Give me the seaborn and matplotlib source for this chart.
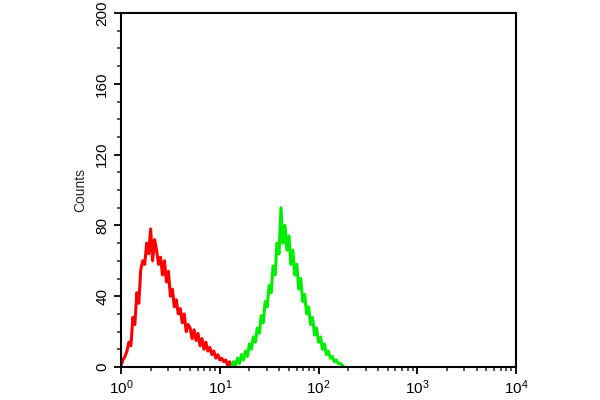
import numpy as np
import pandas as pd
import matplotlib
matplotlib.use("Agg")
import matplotlib.pyplot as plt
import seaborn as sns
from matplotlib.ticker import LogLocator, LogFormatterMathtext, MultipleLocator

# histogram channels, in decades (log10 of intensity), step 0.02
red_start = 0.00
green_start = 1.12
step = 0.02

red_counts = [1, 4, 6, 9, 14, 12, 28, 24, 42, 36,
              55, 60, 58, 70, 64, 78, 60, 72, 66, 58,
              62, 52, 60, 48, 54, 40, 44, 34, 38, 30,
              33, 25, 30, 20, 24, 22, 16, 21, 15, 19,
              12, 16, 10, 14, 9, 11, 7, 9, 5, 7,
              4, 5, 3, 4, 1, 3, 0, 2, 0]

green_counts = [0, 3, 1, 5, 2, 7, 4, 9, 6, 13,
                10, 17, 14, 22, 19, 29, 25, 37, 34, 46,
                42, 57, 52, 70, 64, 90, 70, 80, 66, 74,
                58, 66, 52, 58, 44, 50, 37, 41, 30, 34,
                24, 28, 18, 22, 14, 17, 10, 13, 7, 9,
                5, 6, 3, 4, 2, 2, 1, 0]


def channels(start, n):
    return 10 ** (start + step * np.arange(n))


red_df = pd.DataFrame({"intensity": channels(red_start, len(red_counts)), "count": red_counts})
green_df = pd.DataFrame({"intensity": channels(green_start, len(green_counts)), "count": green_counts})

sns.set_style("ticks")
plt.rcParams["font.family"] = ["Liberation Sans", "DejaVu Sans"]

fig = plt.figure(figsize=(6, 4), dpi=100)
ax = fig.add_axes([0.2017, 0.0825, 0.6583, 0.885])

sns.lineplot(data=red_df, x="intensity", y="count", color="#ff0000", linewidth=2.2, ax=ax)
sns.lineplot(data=green_df, x="intensity", y="count", color="#00ee00", linewidth=2.2, ax=ax)

ax.set_xscale("log")
ax.set_xlim(1, 1e4)
ax.set_ylim(0, 200)
ax.xaxis.set_major_locator(LogLocator(base=10, numticks=10))
ax.xaxis.set_minor_locator(LogLocator(base=10, subs=np.arange(2, 10), numticks=20))
ax.xaxis.set_major_formatter(LogFormatterMathtext())
ax.yaxis.set_major_locator(MultipleLocator(40))
ax.yaxis.set_minor_locator(MultipleLocator(10))

for s in ax.spines.values():
    s.set_visible(True)
    s.set_linewidth(1.5)
    s.set_color("black")

ax.tick_params(axis="both", which="major", direction="out", length=5, width=1.3, labelsize=11, colors="black")
ax.tick_params(axis="both", which="minor", direction="out", length=3, width=1.1)
for lab in ax.get_yticklabels():
    lab.set_rotation(90)
    lab.set_va("center")

ax.set_xlabel("")
ax.set_ylabel("Counts", fontsize=10, labelpad=6)

fig.savefig("out.png", dpi=100)
